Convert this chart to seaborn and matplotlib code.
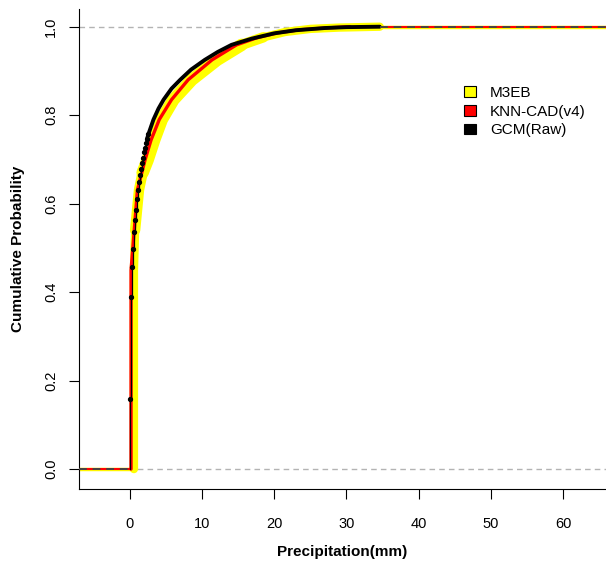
import numpy as np
import pandas as pd
import matplotlib
matplotlib.use("Agg")
import matplotlib.pyplot as plt
import seaborn as sns
from matplotlib.patches import Patch

# ==========================================================
# DATA
# ==========================================================

series_names = ["M3EB", "KNN-CAD(v4)", "GCM(Raw)"]

m3eb_x = [0.6, 0.6, 0.76, 1.3, 1.8, 2.5, 3.4, 4.45, 6.06, 8.6, 12.1, 15.5, 18.5, 21.5, 25.0, 29.0, 34.6]
m3eb_p = [0.0, 0.45, 0.54, 0.631, 0.67, 0.699, 0.744, 0.79, 0.835, 0.88, 0.925, 0.959, 0.976, 0.988, 0.995, 0.998, 1.0]

knn_x = [0.2, 0.2, 0.44, 1.08, 2.14, 2.97, 4.1, 5.8, 8.1, 11.4, 14.8, 17.6, 20.5, 23.5, 27.0, 30.5]
knn_p = [0.0, 0.45, 0.498, 0.631, 0.699, 0.744, 0.79, 0.835, 0.88, 0.925, 0.959, 0.975, 0.986, 0.993, 0.997, 1.0]

gcm_x = [0.07, 0.2, 0.39, 0.53, 0.67, 0.76, 0.9, 1.04, 1.18, 1.31, 1.45, 1.59, 1.73, 1.82,
         1.96, 2.1, 2.24, 2.42, 2.6, 3.3, 4.0, 4.7, 5.8, 7.0, 8.5, 10.4, 12.2, 14.1, 16.9,
         20.0, 23.0, 27.0, 30.0, 34.6]
gcm_p = [0.158, 0.39, 0.457, 0.498, 0.535, 0.562, 0.586, 0.61, 0.63, 0.648, 0.664, 0.679, 0.692, 0.704,
         0.716, 0.726, 0.737, 0.747, 0.757, 0.79, 0.815, 0.835, 0.86, 0.88, 0.903, 0.925, 0.943, 0.959, 0.973,
         0.985, 0.992, 0.997, 0.999, 1.0]

x_ticks = [0, 10, 20, 30, 40, 50, 60]
y_ticks = [0.0, 0.2, 0.4, 0.6, 0.8, 1.0]

colors = {"M3EB": "#FFFF00", "KNN-CAD(v4)": "#FF0000", "GCM(Raw)": "#000000"}

XLIM = (-7.0, 65.9)
YLIM = (-0.045, 1.04)

# ==========================================================
# PLOT
# ==========================================================

sns.set_theme(style="white")
plt.rcParams["font.family"] = ["Liberation Sans", "DejaVu Sans"]
plt.rcParams["text.color"] = "black"
plt.rcParams["axes.labelcolor"] = "black"
plt.rcParams["xtick.color"] = "black"
plt.rcParams["ytick.color"] = "black"

fig = plt.figure(figsize=(6.06, 5.64), dpi=100)
ax = fig.add_axes([79 / 606, 1 - 489 / 564, 1 - 79 / 606, (489 - 9) / 564])

# dashed reference lines at 0 and 1
for h in [0.0, 1.0]:
    ax.axhline(h, color="#B3B3B3", lw=1.0, ls=(0, (4, 3)), zorder=1)

m3eb = pd.DataFrame({"x": m3eb_x, "p": m3eb_p})
knn = pd.DataFrame({"x": knn_x, "p": knn_p})
gcm = pd.DataFrame({"x": gcm_x, "p": gcm_p})

# M3EB - thick yellow band, a bit wider where the curve bends
sns.lineplot(data=m3eb, x="x", y="p", color=colors["M3EB"], lw=6.0,
             estimator=None, sort=False, ax=ax, zorder=2)
bend = m3eb[(m3eb["p"] >= 0.54) & (m3eb["p"] <= 0.985)]
ax.plot(bend["x"], bend["p"], color=colors["M3EB"], lw=7.5,
        solid_capstyle="round", solid_joinstyle="round", zorder=2)
upper = m3eb[(m3eb["p"] >= 0.67) & (m3eb["p"] <= 0.96)]
ax.plot(upper["x"], upper["p"], color=colors["M3EB"], lw=9.0,
        solid_capstyle="round", solid_joinstyle="round", zorder=2)
ax.hlines(0, XLIM[0], m3eb_x[0], color=colors["M3EB"], lw=2.5, zorder=2)
ax.hlines(1, m3eb_x[-1], XLIM[1], color=colors["M3EB"], lw=2.5, zorder=2)

# KNN-CAD - red
sns.lineplot(data=knn, x="x", y="p", color=colors["KNN-CAD(v4)"], lw=2.4,
             estimator=None, sort=False, ax=ax, zorder=3)
ax.hlines(0, XLIM[0], knn_x[0], color=colors["KNN-CAD(v4)"], lw=1.5, zorder=3)
ax.hlines(1, knn_x[-1], XLIM[1], color=colors["KNN-CAD(v4)"], lw=1.5, zorder=3)

# GCM raw - black steps with points where the jumps are sparse, dense band above
sparse = gcm[gcm["x"] <= 2.6]
step_df = pd.concat([pd.DataFrame({"x": [gcm_x[0]], "p": [0.0]}), sparse], ignore_index=True)
sns.lineplot(data=step_df, x="x", y="p", color="black", lw=0.9, drawstyle="steps-post",
             estimator=None, sort=False, ax=ax, zorder=4)
ax.plot(sparse["x"], sparse["p"], ls="none", marker="o", ms=2.8, color="black", zorder=5)
dense = gcm[gcm["x"] >= 2.4]
ax.plot(dense["x"], dense["p"], color="black", lw=2.8, zorder=4)
ax.hlines(0, XLIM[0], gcm_x[0], color="#444444", lw=1.4, linestyles=(0, (4, 3)), zorder=4)
ax.hlines(1, gcm_x[-1], XLIM[1], color="#444444", lw=1.4, linestyles=(0, (4, 3)), zorder=4)

ax.set_xlim(*XLIM)
ax.set_ylim(*YLIM)
ax.set_xticks(x_ticks)
ax.set_yticks(y_ticks)
ax.set_xticklabels([str(t) for t in x_ticks], fontsize=10.5)
ax.set_yticklabels([f"{t:.1f}" for t in y_ticks], fontsize=10.5, rotation=90, va="center")
ax.tick_params(axis="both", direction="out", length=7, width=0.8, color="black",
               bottom=True, left=True, pad=8)
ax.tick_params(axis="x", pad=13)

for side in ["top", "right"]:
    ax.spines[side].set_visible(False)
for side in ["left", "bottom"]:
    ax.spines[side].set_color("black")
    ax.spines[side].set_linewidth(0.8)

ax.set_xlabel("Precipitation(mm)", fontsize=11, fontweight="bold", labelpad=10)
ax.set_ylabel("Cumulative Probability", fontsize=11, fontweight="bold", labelpad=14)

handles = [Patch(facecolor=colors[n], edgecolor="black", lw=0.8) for n in series_names]
ax.legend(handles, series_names, loc="upper left", bbox_to_anchor=(0.719, 0.852),
          frameon=False, fontsize=11, handlelength=0.8, handleheight=0.7,
          handletextpad=0.9, labelspacing=0.3, borderaxespad=0)

fig.savefig("out.png", dpi=100)
